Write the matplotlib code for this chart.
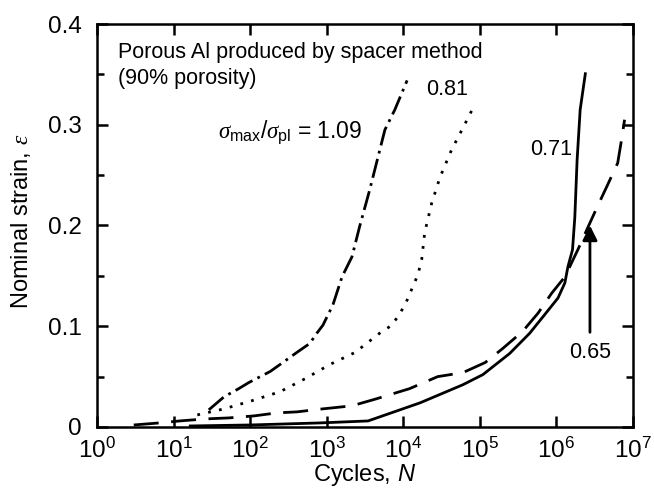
import matplotlib
matplotlib.use("Agg")
import matplotlib.pyplot as plt
import numpy as np
from matplotlib.ticker import LogLocator, MultipleLocator, FuncFormatter, NullLocator

plt.rcParams['font.family'] = ['Liberation Sans', 'DejaVu Sans']
plt.rcParams['mathtext.fontset'] = 'custom'
plt.rcParams['mathtext.rm'] = 'Liberation Sans'
plt.rcParams['mathtext.it'] = 'Liberation Serif:italic'
plt.rcParams['mathtext.sf'] = 'Liberation Sans:italic'
plt.rcParams['lines.scale_dashes'] = False

# sigma_max / sigma_pl = 1.09 (dash-dot)
n_109 = [10**1.46, 10**1.66, 10**1.85, 10**1.98, 10**2.26, 10**2.39, 10**2.61,
         10**2.78, 10**2.87, 10**2.95, 10**3.08, 10**3.20, 10**3.33, 10**3.43,
         10**3.56, 10**3.67, 10**3.76, 10**3.89, 10**4.05]
e_109 = [0.017, 0.030, 0.038, 0.044, 0.055, 0.062, 0.074,
         0.083, 0.093, 0.101, 0.121, 0.149, 0.169, 0.199,
         0.235, 0.268, 0.295, 0.315, 0.344]

# 0.81 (dotted)
n_081 = [10**1.31, 10**1.66, 10**2.02, 10**2.39, 10**2.72, 10**3.04, 10**3.37,
         10**3.69, 10**3.85, 10**3.96, 10**4.05, 10**4.19, 10**4.24, 10**4.28,
         10**4.37, 10**4.48, 10**4.63, 10**4.80, 10**4.90]
e_081 = [0.012, 0.018, 0.026, 0.035, 0.048, 0.062, 0.074,
         0.093, 0.101, 0.113, 0.126, 0.151, 0.166, 0.193,
         0.222, 0.248, 0.275, 0.300, 0.315]

# 0.71 (solid)
n_071 = [10**1.2, 10**2.0, 10**2.9, 10**3.54, 10**4.22, 10**4.78, 10**5.04,
         10**5.39, 10**5.65, 10**5.82, 10**6.02, 10**6.11, 10**6.15, 10**6.21,
         10**6.24, 10**6.27, 10**6.31, 10**6.38]
e_071 = [0.001, 0.002, 0.004, 0.006, 0.024, 0.042, 0.052,
         0.073, 0.093, 0.109, 0.128, 0.143, 0.159, 0.176,
         0.208, 0.265, 0.315, 0.352]

# 0.65 (long dash)
n_065 = [10**0.48, 10**0.81, 10**1.08, 10**1.41, 10**1.72, 10**2.05, 10**2.35,
         10**2.61, 10**2.95, 10**3.33, 10**3.65, 10**4.08, 10**4.45, 10**4.78,
         10**5.07, 10**5.30, 10**5.56, 10**5.76, 10**5.94, 10**6.11, 10**6.28,
         10**6.41, 10**6.53, 10**6.66, 10**6.80, 10**6.85, 10**6.89]
e_065 = [0.002, 0.004, 0.006, 0.008, 0.009, 0.011, 0.014,
         0.015, 0.018, 0.021, 0.028, 0.038, 0.050, 0.054,
         0.064, 0.078, 0.095, 0.113, 0.133, 0.149, 0.176,
         0.198, 0.218, 0.239, 0.262, 0.285, 0.305]

arrow_n = 2.74e6
arrow_from = 0.094
arrow_to = 0.200

fig = plt.figure(figsize=(6.54, 4.95), dpi=100)
ax = fig.add_axes([0.1483, 0.1374, 0.8196, 0.8141])

lw = 2.0
ax.plot(n_109, e_109, color='black', lw=lw, dashes=(14, 4, 2, 4))
ax.plot(n_081, e_081, color='black', lw=lw, dashes=(2, 6))
ax.plot(n_071, e_071, color='black', lw=lw, solid_capstyle='butt')
ax.plot(n_065, e_065, color='black', lw=lw, dashes=(18, 9))

ax.annotate('', xy=(arrow_n, arrow_to), xytext=(arrow_n, arrow_from),
            arrowprops=dict(arrowstyle='-|>', color='black', lw=2,
                            mutation_scale=22, shrinkA=0, shrinkB=0))

ax.set_xscale('log')
ax.set_xlim(1, 1e7)
ax.set_ylim(0, 0.4)

ax.xaxis.set_major_locator(LogLocator(base=10, numticks=10))
ax.xaxis.set_minor_locator(NullLocator())
ax.yaxis.set_major_locator(MultipleLocator(0.1))
ax.yaxis.set_minor_locator(MultipleLocator(0.05))
ax.yaxis.set_major_formatter(FuncFormatter(lambda v, p: '0' if abs(v) < 1e-9 else f'{v:.1f}'))

ax.tick_params(which='both', direction='in', top=True, right=True, width=1.8, labelsize=17.5)
ax.tick_params(which='major', length=8)
ax.tick_params(which='minor', length=5)
ax.tick_params(axis='x', pad=8)
ax.tick_params(axis='y', pad=11)
for s in ax.spines.values():
    s.set_linewidth(1.8)

ax.set_xlabel(r'Cycles, $\mathsf{N}$', fontsize=17)
ax.set_ylabel(r'Nominal strain, $\varepsilon$', fontsize=17)
ax.xaxis.set_label_coords(0.5, -0.088)
ax.yaxis.set_label_coords(-0.12, 0.51)

fs = 15.5
ax.text(10**0.27, 0.372, 'Porous Al produced by spacer method', fontsize=fs, va='center')
ax.text(10**0.27, 0.346, '(90% porosity)', fontsize=fs, va='center')
ax.text(10**1.58, 0.293, r'$\sigma_{\mathrm{max}}/\sigma_{\mathrm{pl}}$ = 1.09', fontsize=fs + 1, va='center')
ax.text(10**4.57, 0.335, '0.81', fontsize=fs, va='center', ha='center')
ax.text(10**5.93, 0.275, '0.71', fontsize=fs, va='center', ha='center')
ax.text(arrow_n, 0.074, '0.65', fontsize=fs, va='center', ha='center')

fig.savefig('out.png', dpi=100)
